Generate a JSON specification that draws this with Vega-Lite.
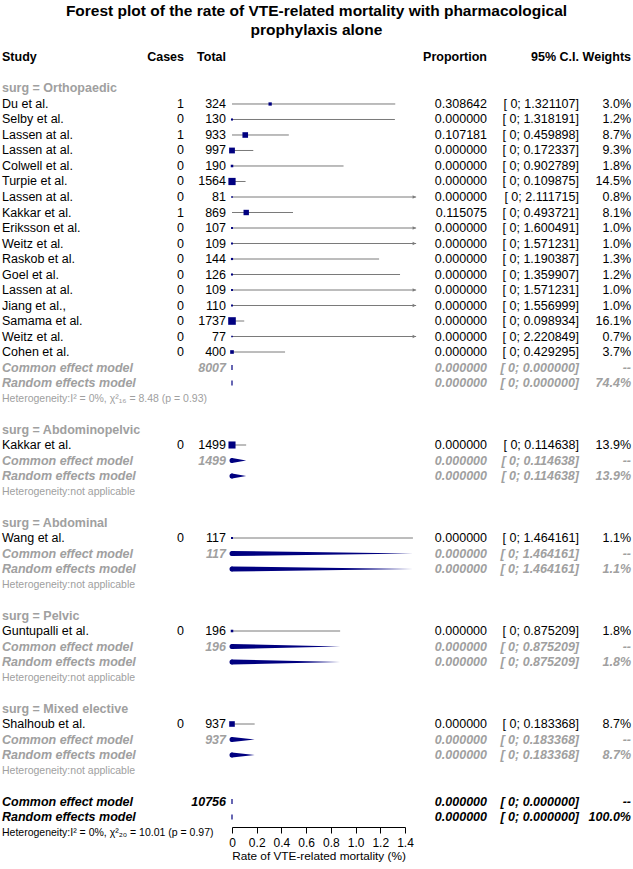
{
  "$schema": "https://vega.github.io/schema/vega-lite/v6.json",
  "width": 633,
  "height": 781,
  "autosize": {"type": "none"},
  "padding": {"left": 0, "right": 0, "top": 46, "bottom": 42},
  "background": "white",
  "config": {"view": {"stroke": null}, "font": "Liberation Sans"},
  "title": {
    "text": ["Forest plot of the rate of VTE-related mortality with pharmacological", "prophylaxis alone"],
    "font": "Liberation Sans",
    "fontSize": 15.5,
    "fontWeight": "bold",
    "color": "#000000",
    "anchor": "middle",
    "lineHeight": 19,
    "offset": 8
  },
  "datasets": {
    "rows": [
      {"row": -3, "kind": "head", "label": "Study", "cases": "Cases", "total": "Total", "prop": "Proportion", "ci": "95% C.I.", "wt": "Weights"},
      {"row": -1, "kind": "group", "label": "surg = Orthopaedic"},
      {"row": 0, "kind": "study", "label": "Du et al.", "cases": 1, "total": 324, "est": 0.308642, "lo": 0, "hi": 1.321107, "prop": "0.308642", "ci": "[ 0; 1.321107]", "wt": "3.0%", "w": 3.0},
      {"row": 1, "kind": "study", "label": "Selby et al.", "cases": 0, "total": 130, "est": 0, "lo": 0, "hi": 1.318191, "prop": "0.000000", "ci": "[ 0; 1.318191]", "wt": "1.2%", "w": 1.2},
      {"row": 2, "kind": "study", "label": "Lassen at al.", "cases": 1, "total": 933, "est": 0.107181, "lo": 0, "hi": 0.459898, "prop": "0.107181", "ci": "[ 0; 0.459898]", "wt": "8.7%", "w": 8.7},
      {"row": 3, "kind": "study", "label": "Lassen at al.", "cases": 0, "total": 997, "est": 0, "lo": 0, "hi": 0.172337, "prop": "0.000000", "ci": "[ 0; 0.172337]", "wt": "9.3%", "w": 9.3},
      {"row": 4, "kind": "study", "label": "Colwell et al.", "cases": 0, "total": 190, "est": 0, "lo": 0, "hi": 0.902789, "prop": "0.000000", "ci": "[ 0; 0.902789]", "wt": "1.8%", "w": 1.8},
      {"row": 5, "kind": "study", "label": "Turpie et al.", "cases": 0, "total": 1564, "est": 0, "lo": 0, "hi": 0.109875, "prop": "0.000000", "ci": "[ 0; 0.109875]", "wt": "14.5%", "w": 14.5},
      {"row": 6, "kind": "study", "label": "Lassen at al.", "cases": 0, "total": 81, "est": 0, "lo": 0, "hi": 2.111715, "prop": "0.000000", "ci": "[ 0; 2.111715]", "wt": "0.8%", "w": 0.8},
      {"row": 7, "kind": "study", "label": "Kakkar et al.", "cases": 1, "total": 869, "est": 0.115075, "lo": 0, "hi": 0.493721, "prop": "0.115075", "ci": "[ 0; 0.493721]", "wt": "8.1%", "w": 8.1},
      {"row": 8, "kind": "study", "label": "Eriksson et al.", "cases": 0, "total": 107, "est": 0, "lo": 0, "hi": 1.600491, "prop": "0.000000", "ci": "[ 0; 1.600491]", "wt": "1.0%", "w": 1.0},
      {"row": 9, "kind": "study", "label": "Weitz et al.", "cases": 0, "total": 109, "est": 0, "lo": 0, "hi": 1.571231, "prop": "0.000000", "ci": "[ 0; 1.571231]", "wt": "1.0%", "w": 1.0},
      {"row": 10, "kind": "study", "label": "Raskob et al.", "cases": 0, "total": 144, "est": 0, "lo": 0, "hi": 1.190387, "prop": "0.000000", "ci": "[ 0; 1.190387]", "wt": "1.3%", "w": 1.3},
      {"row": 11, "kind": "study", "label": "Goel et al.", "cases": 0, "total": 126, "est": 0, "lo": 0, "hi": 1.359907, "prop": "0.000000", "ci": "[ 0; 1.359907]", "wt": "1.2%", "w": 1.2},
      {"row": 12, "kind": "study", "label": "Lassen at al.", "cases": 0, "total": 109, "est": 0, "lo": 0, "hi": 1.571231, "prop": "0.000000", "ci": "[ 0; 1.571231]", "wt": "1.0%", "w": 1.0},
      {"row": 13, "kind": "study", "label": "Jiang et al.,", "cases": 0, "total": 110, "est": 0, "lo": 0, "hi": 1.556999, "prop": "0.000000", "ci": "[ 0; 1.556999]", "wt": "1.0%", "w": 1.0},
      {"row": 14, "kind": "study", "label": "Samama et al.", "cases": 0, "total": 1737, "est": 0, "lo": 0, "hi": 0.098934, "prop": "0.000000", "ci": "[ 0; 0.098934]", "wt": "16.1%", "w": 16.1},
      {"row": 15, "kind": "study", "label": "Weitz et al.", "cases": 0, "total": 77, "est": 0, "lo": 0, "hi": 2.220849, "prop": "0.000000", "ci": "[ 0; 2.220849]", "wt": "0.7%", "w": 0.7},
      {"row": 16, "kind": "study", "label": "Cohen et al.", "cases": 0, "total": 400, "est": 0, "lo": 0, "hi": 0.429295, "prop": "0.000000", "ci": "[ 0; 0.429295]", "wt": "3.7%", "w": 3.7},
      {"row": 17, "kind": "model", "label": "Common effect model", "total": 8007, "est": 0, "lo": 0, "hi": 0, "prop": "0.000000", "ci": "[ 0; 0.000000]", "wt": "--"},
      {"row": 18, "kind": "model", "label": "Random effects model", "est": 0, "lo": 0, "hi": 0, "prop": "0.000000", "ci": "[ 0; 0.000000]", "wt": "74.4%"},
      {"row": 19, "kind": "het", "label": "Heterogeneity:I² = 0%, χ²₁₆ = 8.48 (p = 0.93)"},
      {"row": 21, "kind": "group", "label": "surg = Abdominopelvic"},
      {"row": 22, "kind": "study", "label": "Kakkar et al.", "cases": 0, "total": 1499, "est": 0, "lo": 0, "hi": 0.114638, "prop": "0.000000", "ci": "[ 0; 0.114638]", "wt": "13.9%", "w": 13.9},
      {"row": 23, "kind": "model", "label": "Common effect model", "total": 1499, "est": 0, "lo": 0, "hi": 0.114638, "prop": "0.000000", "ci": "[ 0; 0.114638]", "wt": "--"},
      {"row": 24, "kind": "model", "label": "Random effects model", "est": 0, "lo": 0, "hi": 0.114638, "prop": "0.000000", "ci": "[ 0; 0.114638]", "wt": "13.9%"},
      {"row": 25, "kind": "het", "label": "Heterogeneity:not applicable"},
      {"row": 27, "kind": "group", "label": "surg = Abdominal"},
      {"row": 28, "kind": "study", "label": "Wang et al.", "cases": 0, "total": 117, "est": 0, "lo": 0, "hi": 1.464161, "prop": "0.000000", "ci": "[ 0; 1.464161]", "wt": "1.1%", "w": 1.1},
      {"row": 29, "kind": "model", "label": "Common effect model", "total": 117, "est": 0, "lo": 0, "hi": 1.464161, "prop": "0.000000", "ci": "[ 0; 1.464161]", "wt": "--"},
      {"row": 30, "kind": "model", "label": "Random effects model", "est": 0, "lo": 0, "hi": 1.464161, "prop": "0.000000", "ci": "[ 0; 1.464161]", "wt": "1.1%"},
      {"row": 31, "kind": "het", "label": "Heterogeneity:not applicable"},
      {"row": 33, "kind": "group", "label": "surg = Pelvic"},
      {"row": 34, "kind": "study", "label": "Guntupalli et al.", "cases": 0, "total": 196, "est": 0, "lo": 0, "hi": 0.875209, "prop": "0.000000", "ci": "[ 0; 0.875209]", "wt": "1.8%", "w": 1.8},
      {"row": 35, "kind": "model", "label": "Common effect model", "total": 196, "est": 0, "lo": 0, "hi": 0.875209, "prop": "0.000000", "ci": "[ 0; 0.875209]", "wt": "--"},
      {"row": 36, "kind": "model", "label": "Random effects model", "est": 0, "lo": 0, "hi": 0.875209, "prop": "0.000000", "ci": "[ 0; 0.875209]", "wt": "1.8%"},
      {"row": 37, "kind": "het", "label": "Heterogeneity:not applicable"},
      {"row": 39, "kind": "group", "label": "surg = Mixed elective"},
      {"row": 40, "kind": "study", "label": "Shalhoub et al.", "cases": 0, "total": 937, "est": 0, "lo": 0, "hi": 0.183368, "prop": "0.000000", "ci": "[ 0; 0.183368]", "wt": "8.7%", "w": 8.7},
      {"row": 41, "kind": "model", "label": "Common effect model", "total": 937, "est": 0, "lo": 0, "hi": 0.183368, "prop": "0.000000", "ci": "[ 0; 0.183368]", "wt": "--"},
      {"row": 42, "kind": "model", "label": "Random effects model", "est": 0, "lo": 0, "hi": 0.183368, "prop": "0.000000", "ci": "[ 0; 0.183368]", "wt": "8.7%"},
      {"row": 43, "kind": "het", "label": "Heterogeneity:not applicable"},
      {"row": 45, "kind": "overall", "label": "Common effect model", "total": 10756, "est": 0, "lo": 0, "hi": 0, "prop": "0.000000", "ci": "[ 0; 0.000000]", "wt": "--"},
      {"row": 46, "kind": "overall", "label": "Random effects model", "est": 0, "lo": 0, "hi": 0, "prop": "0.000000", "ci": "[ 0; 0.000000]", "wt": "100.0%"},
      {"row": 47, "kind": "hetall", "label": "Heterogeneity:I² = 0%, χ²₂₀ = 10.01 (p = 0.97)"}
    ]
  },
  "data": {"name": "rows"},
  "encoding": {
    "y": {"field": "row", "type": "quantitative", "scale": {"domain": [-3.7419, 46.645], "reverse": true, "nice": false, "zero": false}, "axis": null}
  },
  "resolve": {"scale": {"x": "independent"}, "axis": {"x": "independent"}},
  "layer": [
    {
      "layer": [
        {
          "transform": [{"filter": "datum.kind == 'study' && datum.hi <= 1.5"}],
          "mark": {"type": "rule", "color": "#7a7a7a", "strokeWidth": 1},
          "encoding": {
            "x": {
              "field": "lo", "type": "quantitative",
              "scale": {"domain": [0, 1.4], "range": [232, 405], "nice": false, "zero": false},
              "axis": {
                "values": [0, 0.2, 0.4, 0.6, 0.8, 1.0, 1.2, 1.4],
                "labelExpr": "datum.value == 0 ? '0' : format(datum.value, '.1f')",
                "title": "Rate of VTE-related mortality (%)",
                "grid": false,
                "tickSize": 6,
                "labelPadding": 4,
                "titlePadding": 2,
                "domainColor": "#000000",
                "tickColor": "#000000",
                "labelColor": "#000000",
                "titleColor": "#000000",
                "labelFont": "Liberation Sans",
                "labelFontSize": 12,
                "titleFont": "Liberation Sans",
                "titleFontSize": 11.8,
                "titleFontWeight": "normal",
                "labelFlush": false,
                "labelOverlap": false
              }
            },
            "x2": {"field": "hi"}
          }
        },
        {
          "data": {"values": [{"ref": 0}]},
          "mark": {"type": "rule", "color": "#808080", "strokeDash": [3, 3], "strokeWidth": 1},
          "encoding": {
            "x": {"field": "ref", "type": "quantitative", "scale": {"domain": [0, 1.4], "range": [232, 405], "nice": false, "zero": false}},
            "y": {"datum": -1.45, "type": "quantitative", "axis": null},
            "y2": {"datum": 46.645}
          }
        },
        {
          "transform": [{"filter": "datum.kind == 'study' && datum.hi > 1.5"}],
          "mark": {"type": "rule", "color": "#7a7a7a", "strokeWidth": 1},
          "encoding": {
            "x": {"field": "lo", "type": "quantitative", "scale": {"domain": [0, 1.4], "range": [232, 405], "nice": false, "zero": false}},
            "x2": {"datum": 1.49}
          }
        },
        {
          "transform": [{"filter": "datum.kind == 'study' && datum.hi > 1.5"}],
          "mark": {"type": "point", "shape": "triangle-right", "filled": true, "color": "#7a7a7a", "size": 14, "opacity": 1},
          "encoding": {
            "x": {"datum": 1.475, "type": "quantitative", "scale": {"domain": [0, 1.4], "range": [232, 405], "nice": false, "zero": false}}
          }
        },
        {
          "transform": [{"filter": "datum.kind == 'study'"}],
          "mark": {"type": "point", "shape": "square", "filled": true, "color": "#000080", "opacity": 1, "strokeWidth": 0},
          "encoding": {
            "x": {"field": "est", "type": "quantitative", "scale": {"domain": [0, 1.4], "range": [232, 405], "nice": false, "zero": false}},
            "size": {"field": "w", "type": "quantitative", "scale": {"domain": [0, 16.1], "range": [0, 58], "zero": true}, "legend": null}
          }
        },
        {
          "transform": [
            {"filter": "(datum.kind == 'model' || datum.kind == 'overall') && datum.hi > 0"},
            {"fold": ["est", "hi"], "as": ["pt", "xv"]}
          ],
          "mark": {"type": "trail", "color": "#000080", "opacity": 1},
          "encoding": {
            "x": {"field": "xv", "type": "quantitative", "scale": {"domain": [0, 1.4], "range": [232, 405], "nice": false, "zero": false}},
            "size": {"field": "pt", "type": "ordinal", "scale": {"domain": ["est", "hi"], "range": [5, 0.2]}, "legend": null},
            "detail": {"field": "row", "type": "nominal"},
            "order": {"field": "xv", "type": "quantitative"}
          }
        },
        {
          "transform": [{"filter": "datum.kind == 'model' || datum.kind == 'overall'"}],
          "mark": {"type": "tick", "orient": "vertical", "color": "#000080", "size": 5, "thickness": 1.2, "opacity": 1},
          "encoding": {
            "x": {"field": "est", "type": "quantitative", "scale": {"domain": [0, 1.4], "range": [232, 405], "nice": false, "zero": false}}
          }
        }
      ]
    },
    {
      "encoding": {
        "color": {"condition": {"test": "datum.kind == 'group' || datum.kind == 'model' || datum.kind == 'het'", "value": "#a0a0a0"}, "value": "#000000"}
      },
      "layer": [
        {
          "transform": [{"filter": "datum.kind == 'head' || datum.kind == 'group'"}],
          "mark": {"type": "text", "align": "left", "baseline": "middle", "fontSize": 12.5, "fontWeight": "bold", "font": "Liberation Sans"},
          "encoding": {
            "x": {"datum": 0, "type": "quantitative", "scale": {"domain": [0, 1, 2, 3, 4, 5], "range": [2, 184, 226, 487, 579, 631], "nice": false, "zero": false}, "axis": null},
            "text": {"field": "label", "type": "nominal"}
          }
        },
        {
          "transform": [{"filter": "datum.kind == 'study'"}],
          "mark": {"type": "text", "align": "left", "baseline": "middle", "fontSize": 12.5, "font": "Liberation Sans"},
          "encoding": {
            "x": {"datum": 0, "type": "quantitative", "scale": {"domain": [0, 1, 2, 3, 4, 5], "range": [2, 184, 226, 487, 579, 631], "nice": false, "zero": false}, "axis": null},
            "text": {"field": "label", "type": "nominal"}
          }
        },
        {
          "transform": [{"filter": "datum.kind == 'model' || datum.kind == 'overall'"}],
          "mark": {"type": "text", "align": "left", "baseline": "middle", "fontSize": 12.5, "fontWeight": "bold", "fontStyle": "italic", "font": "Liberation Sans"},
          "encoding": {
            "x": {"datum": 0, "type": "quantitative", "scale": {"domain": [0, 1, 2, 3, 4, 5], "range": [2, 184, 226, 487, 579, 631], "nice": false, "zero": false}, "axis": null},
            "text": {"field": "label", "type": "nominal"}
          }
        },
        {
          "transform": [{"filter": "datum.kind == 'het' || datum.kind == 'hetall'"}],
          "mark": {"type": "text", "align": "left", "baseline": "middle", "fontSize": 10.5, "font": "Liberation Sans"},
          "encoding": {
            "x": {"datum": 0, "type": "quantitative", "scale": {"domain": [0, 1, 2, 3, 4, 5], "range": [2, 184, 226, 487, 579, 631], "nice": false, "zero": false}, "axis": null},
            "text": {"field": "label", "type": "nominal"}
          }
        },
        {
          "transform": [{"filter": "datum.kind == 'head'"}],
          "mark": {"type": "text", "align": "right", "baseline": "middle", "fontSize": 12.5, "fontWeight": "bold", "font": "Liberation Sans"},
          "encoding": {
            "x": {"datum": 1, "type": "quantitative", "scale": {"domain": [0, 1, 2, 3, 4, 5], "range": [2, 184, 226, 487, 579, 631], "nice": false, "zero": false}, "axis": null},
            "text": {"field": "cases", "type": "nominal"}
          }
        },
        {
          "transform": [{"filter": "datum.kind == 'study'"}],
          "mark": {"type": "text", "align": "right", "baseline": "middle", "fontSize": 12.5, "font": "Liberation Sans"},
          "encoding": {
            "x": {"datum": 1, "type": "quantitative", "scale": {"domain": [0, 1, 2, 3, 4, 5], "range": [2, 184, 226, 487, 579, 631], "nice": false, "zero": false}, "axis": null},
            "text": {"field": "cases", "type": "nominal"}
          }
        },
        {
          "transform": [{"filter": "datum.kind == 'head'"}],
          "mark": {"type": "text", "align": "right", "baseline": "middle", "fontSize": 12.5, "fontWeight": "bold", "font": "Liberation Sans"},
          "encoding": {
            "x": {"datum": 2, "type": "quantitative", "scale": {"domain": [0, 1, 2, 3, 4, 5], "range": [2, 184, 226, 487, 579, 631], "nice": false, "zero": false}, "axis": null},
            "text": {"field": "total", "type": "nominal"}
          }
        },
        {
          "transform": [{"filter": "datum.kind == 'study'"}],
          "mark": {"type": "text", "align": "right", "baseline": "middle", "fontSize": 12.5, "font": "Liberation Sans"},
          "encoding": {
            "x": {"datum": 2, "type": "quantitative", "scale": {"domain": [0, 1, 2, 3, 4, 5], "range": [2, 184, 226, 487, 579, 631], "nice": false, "zero": false}, "axis": null},
            "text": {"field": "total", "type": "nominal"}
          }
        },
        {
          "transform": [{"filter": "(datum.kind == 'model' || datum.kind == 'overall') && isValid(datum.total)"}],
          "mark": {"type": "text", "align": "right", "baseline": "middle", "fontSize": 12.5, "fontWeight": "bold", "fontStyle": "italic", "font": "Liberation Sans"},
          "encoding": {
            "x": {"datum": 2, "type": "quantitative", "scale": {"domain": [0, 1, 2, 3, 4, 5], "range": [2, 184, 226, 487, 579, 631], "nice": false, "zero": false}, "axis": null},
            "text": {"field": "total", "type": "nominal"}
          }
        },
        {
          "transform": [{"filter": "datum.kind == 'head'"}],
          "mark": {"type": "text", "align": "right", "baseline": "middle", "fontSize": 12.5, "fontWeight": "bold", "font": "Liberation Sans"},
          "encoding": {
            "x": {"datum": 3, "type": "quantitative", "scale": {"domain": [0, 1, 2, 3, 4, 5], "range": [2, 184, 226, 487, 579, 631], "nice": false, "zero": false}, "axis": null},
            "text": {"field": "prop", "type": "nominal"}
          }
        },
        {
          "transform": [{"filter": "datum.kind == 'study'"}],
          "mark": {"type": "text", "align": "right", "baseline": "middle", "fontSize": 12.5, "font": "Liberation Sans"},
          "encoding": {
            "x": {"datum": 3, "type": "quantitative", "scale": {"domain": [0, 1, 2, 3, 4, 5], "range": [2, 184, 226, 487, 579, 631], "nice": false, "zero": false}, "axis": null},
            "text": {"field": "prop", "type": "nominal"}
          }
        },
        {
          "transform": [{"filter": "datum.kind == 'model' || datum.kind == 'overall'"}],
          "mark": {"type": "text", "align": "right", "baseline": "middle", "fontSize": 12.5, "fontWeight": "bold", "fontStyle": "italic", "font": "Liberation Sans"},
          "encoding": {
            "x": {"datum": 3, "type": "quantitative", "scale": {"domain": [0, 1, 2, 3, 4, 5], "range": [2, 184, 226, 487, 579, 631], "nice": false, "zero": false}, "axis": null},
            "text": {"field": "prop", "type": "nominal"}
          }
        },
        {
          "transform": [{"filter": "datum.kind == 'head'"}],
          "mark": {"type": "text", "align": "right", "baseline": "middle", "fontSize": 12.5, "fontWeight": "bold", "font": "Liberation Sans"},
          "encoding": {
            "x": {"datum": 4, "type": "quantitative", "scale": {"domain": [0, 1, 2, 3, 4, 5], "range": [2, 184, 226, 487, 579, 631], "nice": false, "zero": false}, "axis": null},
            "text": {"field": "ci", "type": "nominal"}
          }
        },
        {
          "transform": [{"filter": "datum.kind == 'study'"}],
          "mark": {"type": "text", "align": "right", "baseline": "middle", "fontSize": 12.5, "font": "Liberation Sans"},
          "encoding": {
            "x": {"datum": 4, "type": "quantitative", "scale": {"domain": [0, 1, 2, 3, 4, 5], "range": [2, 184, 226, 487, 579, 631], "nice": false, "zero": false}, "axis": null},
            "text": {"field": "ci", "type": "nominal"}
          }
        },
        {
          "transform": [{"filter": "datum.kind == 'model' || datum.kind == 'overall'"}],
          "mark": {"type": "text", "align": "right", "baseline": "middle", "fontSize": 12.5, "fontWeight": "bold", "fontStyle": "italic", "font": "Liberation Sans"},
          "encoding": {
            "x": {"datum": 4, "type": "quantitative", "scale": {"domain": [0, 1, 2, 3, 4, 5], "range": [2, 184, 226, 487, 579, 631], "nice": false, "zero": false}, "axis": null},
            "text": {"field": "ci", "type": "nominal"}
          }
        },
        {
          "transform": [{"filter": "datum.kind == 'head'"}],
          "mark": {"type": "text", "align": "right", "baseline": "middle", "fontSize": 12.5, "fontWeight": "bold", "font": "Liberation Sans"},
          "encoding": {
            "x": {"datum": 5, "type": "quantitative", "scale": {"domain": [0, 1, 2, 3, 4, 5], "range": [2, 184, 226, 487, 579, 631], "nice": false, "zero": false}, "axis": null},
            "text": {"field": "wt", "type": "nominal"}
          }
        },
        {
          "transform": [{"filter": "datum.kind == 'study'"}],
          "mark": {"type": "text", "align": "right", "baseline": "middle", "fontSize": 12.5, "font": "Liberation Sans"},
          "encoding": {
            "x": {"datum": 5, "type": "quantitative", "scale": {"domain": [0, 1, 2, 3, 4, 5], "range": [2, 184, 226, 487, 579, 631], "nice": false, "zero": false}, "axis": null},
            "text": {"field": "wt", "type": "nominal"}
          }
        },
        {
          "transform": [{"filter": "datum.kind == 'model' || datum.kind == 'overall'"}],
          "mark": {"type": "text", "align": "right", "baseline": "middle", "fontSize": 12.5, "fontWeight": "bold", "fontStyle": "italic", "font": "Liberation Sans"},
          "encoding": {
            "x": {"datum": 5, "type": "quantitative", "scale": {"domain": [0, 1, 2, 3, 4, 5], "range": [2, 184, 226, 487, 579, 631], "nice": false, "zero": false}, "axis": null},
            "text": {"field": "wt", "type": "nominal"}
          }
        }
      ]
    }
  ]
}
